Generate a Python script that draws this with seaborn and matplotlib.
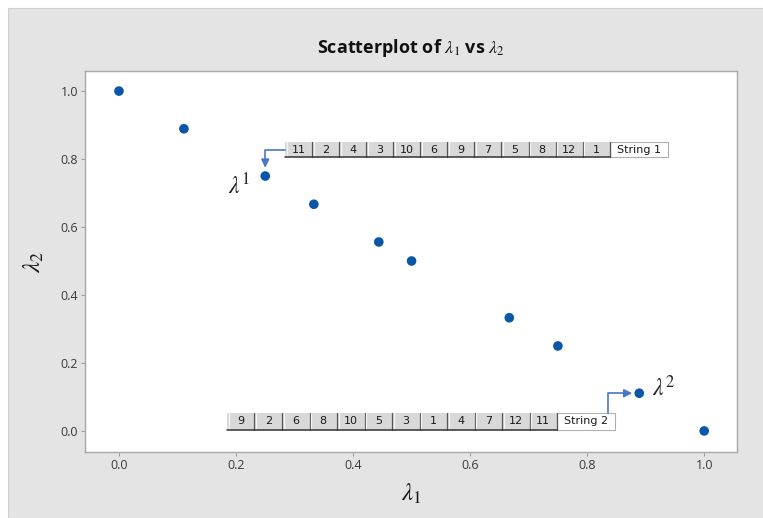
import matplotlib
matplotlib.use("Agg")
import matplotlib.pyplot as plt
import seaborn as sns
import pandas as pd
from matplotlib.patches import Rectangle

# -------------------------------
# Data
# -------------------------------
lambda1 = [0.0, 0.111, 0.25, 0.333, 0.444, 0.5, 0.667, 0.75, 0.889, 1.0]
lambda2 = [1.0, 0.889, 0.75, 0.667, 0.556, 0.5, 0.333, 0.25, 0.111, 0.0]
string1 = ["11", "2", "4", "3", "10", "6", "9", "7", "5", "8", "12", "1"]
string2 = ["9", "2", "6", "8", "10", "5", "3", "1", "4", "7", "12", "11"]
ticks = [0.0, 0.2, 0.4, 0.6, 0.8, 1.0]

df = pd.DataFrame({"l1": lambda1, "l2": lambda2})

# -------------------------------
# Style
# -------------------------------
sns.set_theme(style="white")
plt.rcParams["font.family"] = ["Open Sans", "DejaVu Sans"]
plt.rcParams["mathtext.fontset"] = "stix"

bg = "#e4e4e4"
dot = "#0a56a8"
arrow_c = "#4a76c8"

fig = plt.figure(figsize=(7.63, 5.18), dpi=100)
fig.patch.set_facecolor("white")
fig.patches.append(Rectangle((8 / 763, 0), 1, 1 - 8 / 518, transform=fig.transFigure,
                             facecolor=bg, edgecolor="#cfcfcf", lw=0.8, zorder=-10))

ax = fig.add_axes([0.1114, 0.1274, 0.8545, 0.7355])
ax.set_facecolor("white")

sns.scatterplot(data=df, x="l1", y="l2", ax=ax, color=dot, s=48,
                edgecolor="none", zorder=5)

ax.set_xlim(-0.058, 1.056)
ax.set_ylim(-0.062, 1.059)
ax.set_xticks(ticks)
ax.set_yticks(ticks)
ax.set_xticklabels([f"{t:.1f}" for t in ticks])
ax.set_yticklabels([f"{t:.1f}" for t in ticks])
ax.tick_params(axis="both", direction="out", length=3, width=0.8, color="#a0a0a0",
               labelsize=9, labelcolor="#3a3a3a", pad=2, bottom=True, left=True)
for sp in ax.spines.values():
    sp.set_color("#a8a8a8")
    sp.set_linewidth(1.0)

ax.set_title(r"Scatterplot of $\lambda_1$ vs $\lambda_2$", fontsize=13,
             fontweight="bold", color="#111111", pad=13)
ax.set_xlabel(r"$\lambda_1$", fontsize=18, color="#1a1a1a", labelpad=7)
ax.set_ylabel(r"$\lambda_2$", fontsize=18, color="#1a1a1a", labelpad=10)


# -------------------------------
# String strips
# -------------------------------
def draw_strip(items, name, x0, y0, w, h, lw_box):
    for i, s in enumerate(items):
        xi = x0 + i * w
        ax.add_patch(Rectangle((xi, y0), w, h, facecolor="#d8d8d8", edgecolor="none", zorder=3))
        ax.plot([xi + w, xi + w], [y0, y0 + h], color="#555555", lw=0.9, zorder=4)
        ax.plot([xi + w * 0.06, xi + w * 0.06], [y0, y0 + h], color="#f4f4f4", lw=0.9, zorder=4)
        ax.text(xi + w / 2, y0 + h / 2, s, ha="center", va="center", fontsize=8,
                family="DejaVu Sans", color="#1a1a1a", zorder=6)
    ax.plot([x0, x0 + len(items) * w], [y0, y0], color="#333333", lw=1.1, zorder=4)
    xl = x0 + len(items) * w
    ax.add_patch(Rectangle((xl, y0), lw_box, h, facecolor="white", edgecolor="#b0b0b0",
                           lw=0.8, zorder=3))
    ax.text(xl + lw_box / 2, y0 + h / 2, name, ha="center", va="center", fontsize=8,
            family="DejaVu Sans", color="#1a1a1a", zorder=6)


draw_strip(string1, "String 1", 0.284, 0.806, 0.0462, 0.044, 0.099)
draw_strip(string2, "String 2", 0.1846, 0.003, 0.0470, 0.050, 0.099)

# elbow arrows
ax.annotate("", xy=(lambda1[2], lambda2[2]), xytext=(0.284, 0.828),
            arrowprops=dict(arrowstyle="-|>", color=arrow_c, lw=1.2, shrinkA=0, shrinkB=6,
                            mutation_scale=12,
                            connectionstyle="angle,angleA=0,angleB=90,rad=0"), zorder=4)
ax.annotate("", xy=(lambda1[8], lambda2[8]), xytext=(0.836, 0.053),
            arrowprops=dict(arrowstyle="-|>", color=arrow_c, lw=1.2, shrinkA=0, shrinkB=5,
                            mutation_scale=12,
                            connectionstyle="angle,angleA=90,angleB=0,rad=0"), zorder=4)

ax.annotate(r"$\lambda^1$", xy=(lambda1[2], lambda2[2]), xytext=(-11, -8),
            textcoords="offset points", ha="right", va="center", fontsize=17, color="#222222")
ax.annotate(r"$\lambda^2$", xy=(lambda1[8], lambda2[8]), xytext=(9, 3),
            textcoords="offset points", ha="left", va="center", fontsize=17, color="#222222")

fig.savefig("out.png", dpi=100)
